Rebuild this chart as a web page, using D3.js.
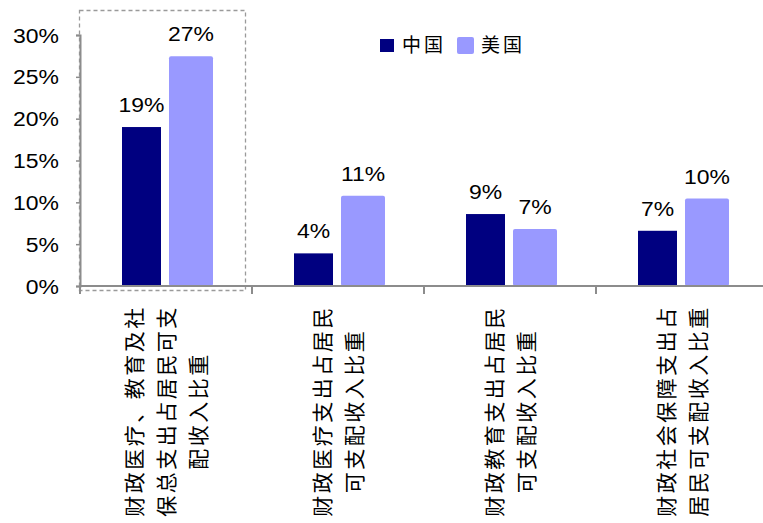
<!DOCTYPE html>
<html>
<head>
<meta charset="utf-8">
<script src="https://cdn.jsdelivr.net/npm/d3@7"></script>
<style>
  html, body { margin: 0; padding: 0; background: #fff; }
  svg { display: block; }
</style>
</head>
<body>
<svg id="chart" width="763" height="523"></svg>
<script>
// Categories: each label is split into the lines it is set in
const categories = ["g1", "g2", "g3", "g4"];
const categoryLines = [
  ["财政医疗、教育及社", "保总支出占居民可支", "配收入比重"],
  ["财政医疗支出占居民", "可支配收入比重"],
  ["财政教育支出占居民", "可支配收入比重"],
  ["财政社会保障支出占", "居民可支配收入比重"]
];
const seriesNames = ["中国", "美国"];
const chinaValues = [19.0, 3.9, 8.6, 6.6];     // %
const usValues    = [27.45, 10.8, 6.8, 10.45]; // %
const yTicks = [0, 5, 10, 15, 20, 25, 30];

const colors = { "中国": "#000080", "美国": "#9999ff" };
const axisColor = "#8c8c8c";
const numFont = "'Liberation Sans', Arial, sans-serif";
const cjkFont = "'Noto Sans CJK SC', sans-serif";
const numSize = 20.5;
const numStretch = 1.12; // numbers are set slightly wide

const svg = d3.select("#chart");

const y = d3.scaleLinear().domain([0, 30]).range([286, 35]);
const x = d3.scaleBand().domain(categories).range([80, 768]).padding(0);

// Bar layout inside each category band
const barW = { "中国": 39, "美国": 44 };
const barOff = { "中国": -44, "美国": 3 };

const data = [];
categories.forEach((c, i) => {
  data.push({ cat: c, s: "中国", v: chinaValues[i] });
  data.push({ cat: c, s: "美国", v: usValues[i] });
});
const center = c => x(c) + x.bandwidth() / 2;

// Wide number text placed at (px, py)
function numText(sel, px, py, anchor) {
  return sel
    .attr("transform", d => `translate(${px(d)},${py(d)}) scale(${numStretch},1)`)
    .attr("text-anchor", anchor)
    .attr("font-family", numFont)
    .attr("font-size", numSize)
    .attr("fill", "#000");
}

// Dashed frame around the first group
svg.append("rect")
  .attr("x", 79.5).attr("y", 10.5)
  .attr("width", 166).attr("height", 280)
  .attr("fill", "none")
  .attr("stroke", "#9a9a9a")
  .attr("stroke-width", 1.3)
  .attr("stroke-dasharray", "4,3");

// Bars
svg.append("g").selectAll("rect")
  .data(data)
  .join("rect")
  .attr("x", d => center(d.cat) + barOff[d.s])
  .attr("width", d => barW[d.s])
  .attr("y", d => y(d.v))
  .attr("height", d => y(0) - y(d.v))
  .attr("rx", d => d.s === "美国" ? 2 : 0)
  .attr("fill", d => colors[d.s]);

// Value labels
svg.append("g").selectAll("text")
  .data(data)
  .join("text")
  .call(numText, d => center(d.cat) + barOff[d.s] + barW[d.s] / 2, d => y(d.v) - 15, "middle")
  .text(d => d3.format(".0f")(d.v) + "%");

// Y axis
const yAxis = d3.axisLeft(y)
  .tickValues(yTicks)
  .tickSize(4)
  .tickFormat("");
const gy = svg.append("g").attr("transform", "translate(80,0)").call(yAxis);
gy.select(".domain").attr("stroke", axisColor).attr("stroke-width", 2);
gy.selectAll(".tick line").attr("stroke", axisColor).attr("stroke-width", 1.5);

svg.append("g").selectAll("text")
  .data(yTicks)
  .join("text")
  .call(numText, () => 59, d => y(d) + 7.5, "end")
  .text(d => d + "%");

// X axis: line along zero with ticks between categories
const gx = svg.append("g");
gx.append("line")
  .attr("x1", 80).attr("x2", 763)
  .attr("y1", y(0)).attr("y2", y(0))
  .attr("stroke", axisColor).attr("stroke-width", 2);
gx.selectAll("line.tick")
  .data(categories)
  .join("line")
  .attr("class", "tick")
  .attr("x1", d => x(d)).attr("x2", d => x(d))
  .attr("y1", y(0)).attr("y2", y(0) + 8)
  .attr("stroke", axisColor).attr("stroke-width", 2);

// Category labels, rotated to read bottom-to-top
const lineGap = 32;
categories.forEach((c, i) => {
  const lines = categoryLines[i];
  const cx = center(c) - (lines.length - 1) * lineGap / 2;
  const t = svg.append("text")
    .attr("transform", `translate(${cx},411) rotate(-90)`)
    .attr("text-anchor", "middle")
    .attr("font-family", cjkFont)
    .attr("font-size", 21)
    .attr("letter-spacing", 2.5)
    .attr("fill", "#000");
  lines.forEach((ln, j) => {
    t.append("tspan")
      .attr("x", 0)
      .attr("y", j * lineGap + 7.5)
      .text(ln);
  });
});

// Legend
const legend = svg.append("g");
const legendX = [380, 457];
seriesNames.forEach((s, i) => {
  const g = legend.append("g").attr("transform", `translate(${legendX[i]},0)`);
  if (s === "中国") {
    g.append("rect").attr("x", 0).attr("y", 39).attr("width", 14).attr("height", 13).attr("fill", colors[s]);
    g.append("text").attr("x", 22).attr("y", 52);
  } else {
    g.append("rect").attr("x", 0).attr("y", 37).attr("width", 17).attr("height", 17).attr("rx", 2).attr("fill", colors[s]);
    g.append("text").attr("x", 24).attr("y", 52);
  }
  g.select("text")
    .attr("font-family", cjkFont)
    .attr("font-size", 19)
    .attr("letter-spacing", 3)
    .attr("fill", "#000")
    .text(s);
});
</script>
</body>
</html>
